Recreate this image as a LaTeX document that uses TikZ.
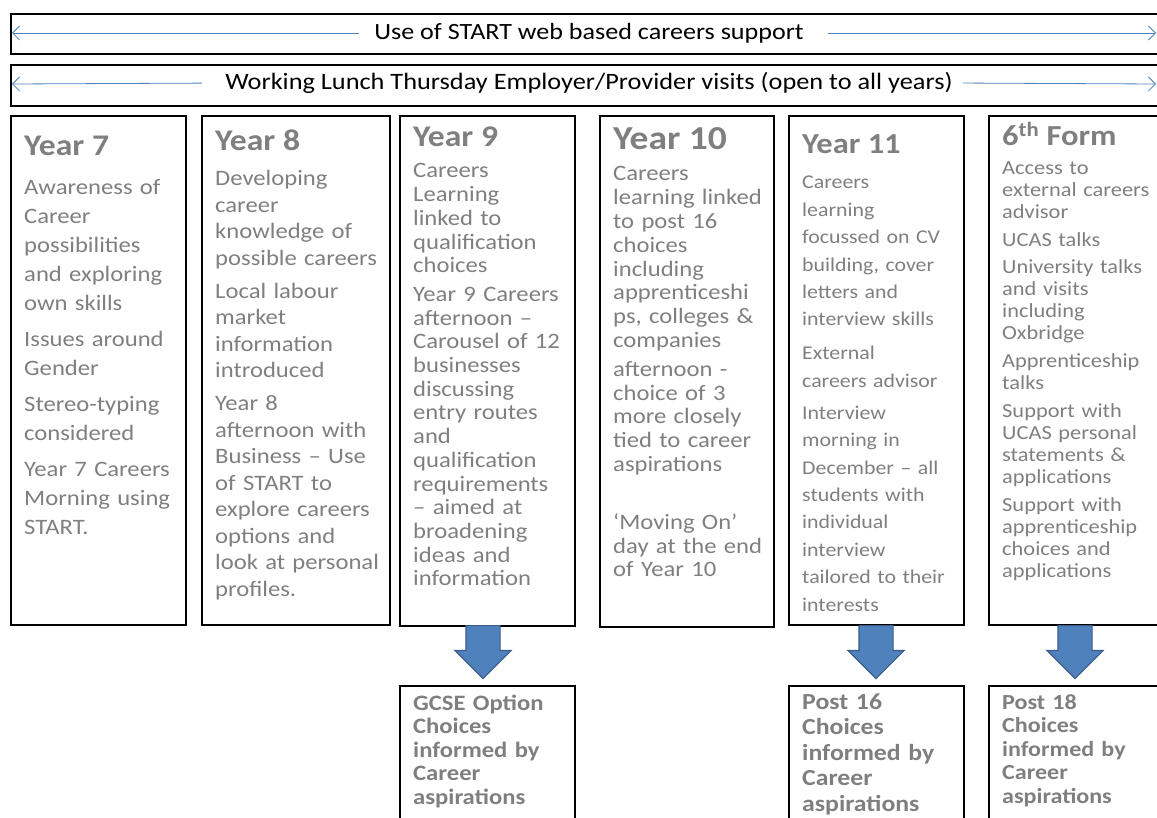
\documentclass[tikz,border=0pt]{standalone}
\usepackage{fontspec}
\setmainfont{Carlito}[FakeStretch=1.12]
\usetikzlibrary{shapes.arrows,arrows.meta}
\definecolor{textgrey}{RGB}{127,127,127}
\definecolor{flowblue}{RGB}{79,129,189}
\definecolor{flowedge}{RGB}{56,93,138}
\newcommand{\fs}[2]{\fontsize{#1}{#2}\selectfont}

\begin{document}
\begin{tikzpicture}
        [x=1pt,y=-1pt,
         box/.style={draw,line width=1.6pt,black,anchor=north west,inner sep=0},
         head/.style={anchor=base west,inner sep=0,text=textgrey},
         body/.style={anchor=base west,inner sep=0,text=textgrey,align=left,text width=175pt},
         flow/.style={single arrow,draw=flowedge,fill=flowblue,line width=1.2pt,shape border rotate=270,
                      anchor=tail,inner sep=16.5pt,minimum width=55pt,single arrow head extend=11pt,minimum height=53pt},
         span/.style={draw=flowblue,line width=0.8pt,-{Straight Barb[length=7pt,width=14pt]}}]

        \useasboundingbox (0,0) rectangle (1157,818);

        \node[box,minimum width=1155pt,minimum height=40pt] (web) at (10,13) {};
        \node[box,minimum width=1155pt,minimum height=41pt] (lunch) at (10,64) {};

        \node[inner sep=0,font=\fs{23.3}{28}] (webtxt) at (589,33) {Use of START web based careers support};
        \node[inner sep=0,font=\fs{23.5}{28}] (lunchtxt) at (589,83) {Working Lunch Thursday Employer/Provider visits (open to all years)};
        \coordinate (webL) at (12,33);
        \coordinate (webR) at (1156,33);
        \coordinate (lunchL) at (12,84);
        \coordinate (lunchR) at (1156,84);
        \draw[span,shorten <=15pt] (webtxt.west) -- (webL);
        \draw[span,shorten <=24pt] (webtxt.east) -- (webR);
        \draw[span,shorten <=23pt] (lunchtxt.west) -- (lunchL);
        \draw[span,shorten <=10pt] (lunchtxt.east) -- (lunchR);

        \node[box,minimum width=175pt,minimum height=509pt] (y7) at (10,115) {};
        \node[box,minimum width=188pt,minimum height=509pt] (y8) at (201,115) {};
        \node[box,minimum width=175pt,minimum height=510pt] (y9) at (399,115) {};
        \node[box,minimum width=174pt,minimum height=511pt] (y10) at (599,115) {};
        \node[box,minimum width=175pt,minimum height=509pt] (y11) at (788,115) {};
        \node[box,minimum width=177pt,minimum height=509pt] (y12) at (988,115) {};

        \node[box,minimum width=175pt,minimum height=145pt] (gcse) at (399,685) {};
        \node[box,minimum width=175pt,minimum height=145pt] (post16) at (788,685) {};
        \node[box,minimum width=177pt,minimum height=145pt] (post18) at (988,685) {};

        \node[flow] (a9) at (483,625) {};
        \node[flow] (a11) at (876,625) {};
        \node[flow] (a12) at (1075,625) {};

        \node[head,font=\bfseries\fs{30}{36}] (h7) at (24,156) {Year 7};
        \node[head,font=\bfseries\fs{30}{36}] (h8) at (215,151) {Year 8};
        \node[head,font=\bfseries\fs{30}{36}] (h9) at (413,147) {Year 9};
        \node[head,font=\bfseries\fs{33.5}{40}] (h10) at (613,150) {Year 10};
        \node[head,font=\bfseries\fs{29}{36}] (h11) at (802,154) {Year 11};
        \node[head,font=\bfseries\fs{29}{36}] (h12) at (1002,146) {6\textsuperscript{th} Form};

        \node[body,font=\fs{22}{29}] (t7) at (24,195)
          {Awareness of\\ Career\\ possibilities\\ and exploring\\ own skills\\[7pt]
           Issues around\\ Gender\\[7pt] Stereo-typing\\ considered\\[7pt]
           Year 7 Careers\\ Morning using\\ START.};
        \node[body,font=\fs{22}{26.5}] (t8) at (215,186)
          {Developing\\ career\\ knowledge of\\ possible careers\\[6.5pt]
           Local labour\\ market\\ information\\ introduced\\[6.5pt]
           Year 8\\ afternoon with\\ Business – Use\\ of START to\\ explore careers\\ options and\\ look at personal\\ profiles.};
        \node[body,font=\fs{22}{23.7}] (t9) at (413,178)
          {Careers\\ Learning\\ linked to\\ qualification\\ choices\\[5pt]
           Year 9 Careers\\ afternoon –\\ Carousel of 12\\ businesses\\ discussing\\ entry routes\\ and\\ qualification\\ requirements\\ – aimed at\\ broadening\\ ideas and\\ information};
        \node[body,font=\fs{22}{23.8}] (t10) at (613,181)
          {Careers\\ learning linked\\ to post 16\\ choices\\ including\\ apprenticeshi\\ ps, colleges \&\\ companies\\[5pt]
           afternoon -\\ choice of 3\\ more closely\\ tied to career\\ aspirations\\[34pt]
           ‘Moving On’\\ day at the end\\ of Year 10};
        \node[body,font=\fs{19.5}{27.4}] (t11) at (802,189)
          {Careers\\ learning\\ focussed on CV\\ building, cover\\ letters and\\ interview skills\\[6.6pt]
           External\\ careers advisor\\[4.6pt]
           Interview\\ morning in\\ December – all\\ students with\\ individual\\ interview\\ tailored to their\\ interests};
        \node[body,font=\fs{20}{22}] (t12) at (1002,175)
          {Access to\\ external careers\\ advisor\\[6pt] UCAS talks\\[5pt]
           University talks\\ and visits\\ including\\ Oxbridge\\[6pt]
           Apprenticeship\\ talks\\[6pt]
           Support with\\ UCAS personal\\ statements \&\\ applications\\[6pt]
           Support with\\ apprenticeship\\ choices and\\ applications};

        \node[body,font=\bfseries\fs{22}{23.5}] (o9) at (413,710)
          {GCSE Option\\ Choices\\ informed by\\ Career\\ aspirations};
        \node[body,font=\bfseries\fs{23}{25.5}] (o11) at (802,709)
          {Post 16\\ Choices\\ informed by\\ Career\\ aspirations};
        \node[body,font=\bfseries\fs{21.5}{23.5}] (o12) at (1002,709)
          {Post 18\\ Choices\\ informed by\\ Career\\ aspirations};

      \end{tikzpicture}
\end{document}
